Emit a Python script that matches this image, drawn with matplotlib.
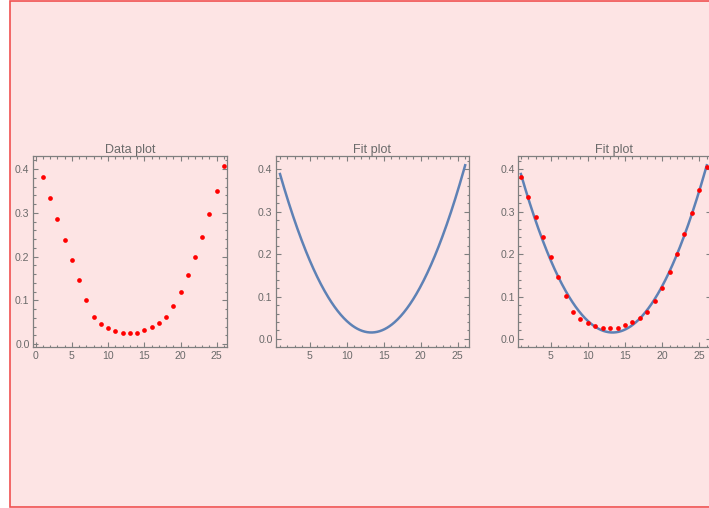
import numpy as np
import matplotlib
matplotlib.use("Agg")
import matplotlib.pyplot as plt
from matplotlib.patches import Rectangle
from matplotlib.ticker import MultipleLocator

# data
x_data = np.arange(1, 27)
y_data = [0.3825, 0.3337, 0.2872, 0.2392, 0.1928, 0.1463, 0.1021, 0.0632,
          0.0465, 0.0373, 0.0305, 0.0259, 0.0259, 0.0259, 0.0328, 0.0396,
          0.0488, 0.0632, 0.0884, 0.1204, 0.1577, 0.1996, 0.2461, 0.2971,
          0.3505, 0.4061]
titles = ["Data plot", "Fit plot", "Fit plot"]

# quadratic fit of the data, as in the original notebook
coeffs = np.polyfit(x_data, y_data, 2)
x_fit = np.linspace(1, 26, 300)
y_fit = np.polyval(coeffs, x_fit)

plt.rcParams['font.family'] = ['Liberation Sans', 'DejaVu Sans']
text_col = "#6a6a6a"
frame_col = "#7f7f7f"
curve_col = "#5e81b5"

fig = plt.figure(figsize=(7.09, 5.08), dpi=100)
fig.patch.set_facecolor("white")
fig.add_artist(Rectangle((9.5 / 709, 1.5 / 508), 1.0, 1.0 - 2.5 / 508,
                         transform=fig.transFigure, facecolor="#fde4e4",
                         edgecolor="#f05050", linewidth=1.2, zorder=-10))

H = 508.0
W = 709.0
boxes = [(33, 227), (276, 468.5), (518.3, 710.5)]
top, bottom = 156, 347.3
xlims = [(-0.37, 26.42), (0.46, 26.45), (0.65, 26.5)]
ylims = [(-0.007, 0.430), (-0.0196, 0.431), (-0.0196, 0.431)]

axes = []
for i, (l, r) in enumerate(boxes):
    ax = fig.add_axes([l / W, (H - bottom) / H, (r - l) / W, (bottom - top) / H])
    ax.set_facecolor("none")
    ax.set_xlim(*xlims[i])
    ax.set_ylim(*ylims[i])
    ax.xaxis.set_major_locator(MultipleLocator(5))
    ax.xaxis.set_minor_locator(MultipleLocator(1))
    ax.yaxis.set_major_locator(MultipleLocator(0.1))
    ax.yaxis.set_minor_locator(MultipleLocator(0.02))
    ax.yaxis.set_major_formatter(matplotlib.ticker.FormatStrFormatter("%.1f"))
    if i > 0:
        ax.set_xticks([5, 10, 15, 20, 25])
    ax.tick_params(which="both", direction="in", top=True, right=True,
                   colors=frame_col, labelcolor=text_col, labelsize=7.6, width=0.8)
    ax.tick_params(which="major", length=3.5, pad=2.5)
    ax.tick_params(which="minor", length=1.8)
    for s in ax.spines.values():
        s.set_color(frame_col)
        s.set_linewidth(0.9)
    ax.set_title(titles[i], fontsize=9, color=text_col, pad=2)
    axes.append(ax)

axes[0].plot(x_data, y_data, "o", color="red", ms=3.4, mec="none", clip_on=False)
axes[1].plot(x_fit, y_fit, color=curve_col, lw=1.8)
axes[2].plot(x_fit, y_fit, color=curve_col, lw=1.8)
axes[2].plot(x_data, y_data, "o", color="red", ms=3.4, mec="none", clip_on=False)

fig.savefig("out.png", dpi=100)
